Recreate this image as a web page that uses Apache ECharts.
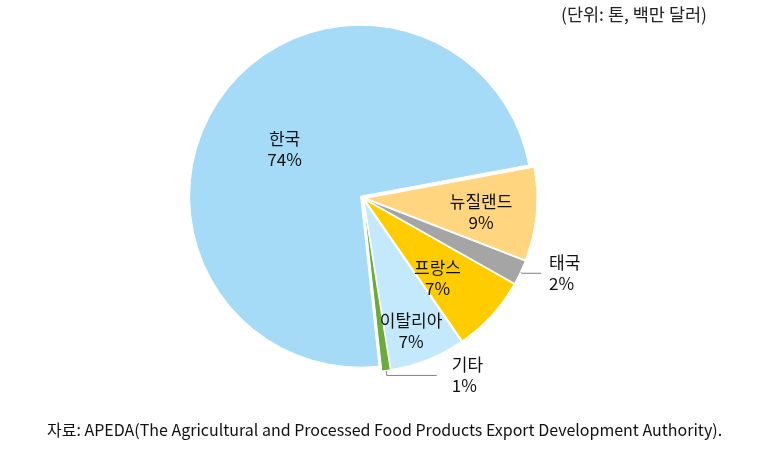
<!DOCTYPE html>
<html><head><meta charset="utf-8">
<script src="https://cdn.jsdelivr.net/npm/echarts@6/dist/echarts.min.js"></script>
<style>html,body{margin:0;padding:0;background:#fff}#c{width:776px;height:449px}</style>
</head><body><div id="c"></div>
<script>
// Data (share of exports, %), in clockwise order starting at the top-right boundary
const categories = ['뉴질랜드', '태국', '프랑스', '이탈리아', '기타', '한국'];
const values = [8.8, 2.3, 7.2, 7.1, 0.8, 73.8];
const colors = ['#FFD67F', '#A5A5A5', '#FFCC00', '#C4E9FC', '#6AAB3A', '#A5DBF6'];
const unitText = '(단위: 톤, 백만 달러)';
const sourceText = '자료: APEDA(The Agricultural and Processed Food Products Export Development Authority).';

const FONT = '"Noto Sans CJK KR", "Noto Sans", sans-serif';
const insideShift = {'뉴질랜드': [27, 6], '프랑스': [7, 18], '이탈리아': [14, 48], '한국': [-5, 6]};
const outside = {'태국': {length: 2, length2: 19, gap: 8}, '기타': {length: 5, length2: 50, gap: 15}};

const data = categories.map((name, i) => {
  const item = {name, value: values[i], selected: true, itemStyle: {color: colors[i]}};
  if (outside[name]) {
    item.label = {position: 'outside', align: 'left', distanceToLabelLine: outside[name].gap};
    item.labelLine = {show: true, length: outside[name].length, length2: outside[name].length2,
      lineStyle: {color: '#808080', width: 1}};
  } else {
    item.label = {position: 'inside'};
    item.labelLine = {show: false};
  }
  return item;
});

const chart = echarts.init(document.getElementById('c'), null, {renderer: 'canvas'});
chart.setOption({
  animation: false,
  title: [
    {text: unitText, right: 64, top: 1, textStyle: {fontFamily: FONT, fontSize: 17.5, fontWeight: 'normal', color: '#222'}},
    {text: sourceText, left: 42, top: 417, textStyle: {fontFamily: FONT, fontSize: 16, fontWeight: 'normal', color: '#111'}}
  ],
  series: [{
    type: 'pie',
    center: [363, 198],
    radius: 171,
    startAngle: 10.5,
    clockwise: true,
    selectedMode: 'multiple',
    selectedOffset: 3,
    avoidLabelOverlap: false,
    itemStyle: {borderColor: '#fff', borderWidth: 1},
    emphasis: {disabled: true},
    label: {
      show: true,
      fontFamily: FONT,
      fontSize: 17,
      lineHeight: 21,
      color: '#111',
      align: 'center',
      formatter: p => p.name + '\n' + Math.round(p.percent) + '%'
    },
    labelLayout: p => {
      const s = insideShift[categories[p.dataIndex]];
      return s ? {dx: s[0], dy: s[1]} : {};
    },
    data
  }]
});
</script></body></html>
